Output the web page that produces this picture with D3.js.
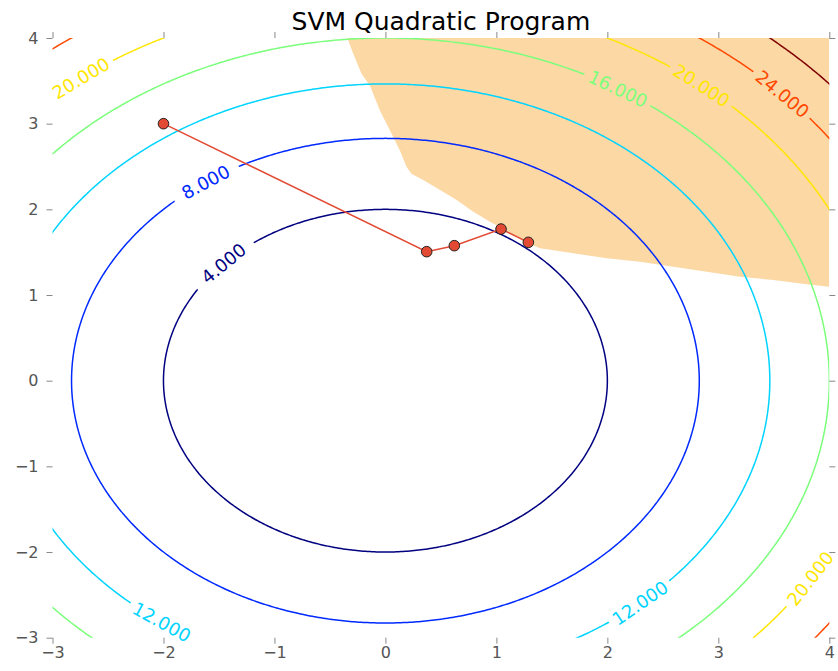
<!DOCTYPE html>
<html>
<head>
<meta charset="utf-8">
<script src="https://cdn.jsdelivr.net/npm/d3@7"></script>
<style>
  html, body { margin: 0; padding: 0; background: #fff; }
  svg { display: block; font-family: "DejaVu Sans", sans-serif; }
</style>
</head>
<body>
<svg id="chart" width="838" height="671"></svg>
<script>
// Objective contour levels of f(x, y) = x^2 + y^2
const levels = [4, 8, 12, 16, 20, 24, 28];

// Where each contour carries its inline label (data coordinates, snapped onto the level curve)
const labelLevels = [20, 8, 4, 16, 20, 24, 12, 12, 20];
const labelX = [-2.75, -1.62, -1.46, 2.11, 2.86, 3.58, -2.01, 2.29, 3.83];
const labelY = [3.54, 2.32, 1.37, 3.43, 3.46, 3.35, -2.81, -2.59, -2.31];

// Boundary of the feasible region (region lies above / right of it)
const regionX = [-0.343, -0.289, -0.214, -0.139, -0.049, 0.057, 0.131, 0.192, 0.237, 0.341,
                 0.492, 0.642, 0.792, 0.942, 1.078, 1.258, 1.393, 1.693, 1.994, 2.294,
                 2.594, 2.895, 3.195, 3.495, 3.796, 4.0];
const regionY = [4.0, 3.813, 3.580, 3.443, 3.151, 2.879, 2.684, 2.491, 2.413, 2.342,
                 2.226, 2.109, 1.972, 1.856, 1.759, 1.619, 1.545, 1.487, 1.428, 1.389,
                 1.330, 1.272, 1.214, 1.175, 1.125, 1.097];

// Solver iterates
const iterX = [-2.0, 0.372, 0.621, 1.042, 1.288];
const iterY = [3.0, 1.506, 1.576, 1.770, 1.615];

const xTicks = [-3, -2, -1, 0, 1, 2, 3, 4];
const yTicks = [-3, -2, -1, 0, 1, 2, 3, 4];

const title = "SVM Quadratic Program";

// ---------------------------------------------------------------
const svg = d3.select("#chart");
const plotL = 52.5, plotR = 829.3, plotT = 38, plotB = 637.7;

const x = d3.scaleLinear().domain([-3, 4]).range([plotL, plotR]);
const y = d3.scaleLinear().domain([-3, 4]).range([plotB, plotT]);

// matplotlib "jet" colormap
function jetChannel(t, pts) {
  for (let i = 1; i < pts.length; i++) {
    if (t <= pts[i][0]) {
      const [t0, v0] = pts[i - 1], [t1, v1] = pts[i];
      return v0 + (v1 - v0) * (t - t0) / (t1 - t0);
    }
  }
  return pts[pts.length - 1][1];
}
function jet(t) {
  const r = jetChannel(t, [[0, 0], [0.35, 0], [0.66, 1], [0.89, 1], [1, 0.5]]);
  const g = jetChannel(t, [[0, 0], [0.125, 0], [0.375, 1], [0.64, 1], [0.91, 0], [1, 0]]);
  const b = jetChannel(t, [[0, 0.5], [0.11, 1], [0.34, 1], [0.65, 0], [1, 0]]);
  return d3.rgb(r * 255, g * 255, b * 255).formatHex();
}
const levelColor = d3.scaleLinear().domain(d3.extent(levels)).range([0, 1]);
const colorOf = lv => jet(levelColor(lv));

const defs = svg.append("defs");
defs.append("clipPath").attr("id", "plot-clip")
  .append("rect").attr("x", plotL).attr("y", plotT)
  .attr("width", plotR - plotL).attr("height", plotB - plotT);

// Feasible region
const regionPts = regionX.map((v, i) => [v, regionY[i]]);
regionPts.push([4, 4]);
svg.append("path")
  .attr("clip-path", "url(#plot-clip)")
  .attr("d", d3.line().x(d => x(d[0])).y(d => y(d[1]))(regionPts) + "Z")
  .attr("fill", "#fcd8a5")
  .attr("stroke", "none");

// Objective sampled on a grid extending past the axes
const g0 = -3.5, step = 0.02, n = Math.round(8 / step) + 1;
const grid = new Float64Array(n * n);
for (let j = 0; j < n; j++) {
  for (let i = 0; i < n; i++) {
    const gx = g0 + i * step, gy = g0 + j * step;
    grid[j * n + i] = gx * gx + gy * gy;
  }
}
const contours = d3.contours().size([n, n]).thresholds(levels)(grid);
const toPlot = d3.geoTransform({
  point(u, v) {
    this.stream.point(x(g0 + (u - 0.5) * step), y(g0 + (v - 0.5) * step));
  }
});
const contourPath = d3.geoPath(toPlot);

// Label geometry: snap to curve, orient along its tangent
const kx = x(1) - x(0), ky = y(0) - y(1);
const fontSize = 18;
const labels = labelLevels.map((lv, i) => {
  const th = Math.atan2(labelY[i], labelX[i]);
  const r = Math.sqrt(lv);
  const px = x(r * Math.cos(th)), py = y(r * Math.sin(th));
  let ang = Math.atan2(-Math.cos(th) * ky, -Math.sin(th) * kx) * 180 / Math.PI;
  if (ang > 90) ang -= 180;
  if (ang < -90) ang += 180;
  return { level: lv, px, py, ang, text: d3.format(".3f")(lv) };
});

// One mask per level cuts gaps where its labels sit
levels.forEach((lv, k) => {
  const m = defs.append("mask").attr("id", "gap-" + k)
    .attr("maskUnits", "userSpaceOnUse")
    .attr("x", 0).attr("y", 0).attr("width", 838).attr("height", 671);
  m.append("rect").attr("width", 838).attr("height", 671).attr("fill", "#fff");
  labels.filter(l => l.level === lv).forEach(l => {
    const w = fontSize * 3.5 + 10, h = fontSize * 1.1;
    m.append("rect")
      .attr("x", -w / 2).attr("y", -h / 2).attr("width", w).attr("height", h)
      .attr("transform", `translate(${l.px},${l.py}) rotate(${l.ang})`)
      .attr("fill", "#000");
  });
});

const cg = svg.append("g").attr("clip-path", "url(#plot-clip)");
contours.forEach((c, k) => {
  cg.append("g").attr("mask", `url(#gap-${k})`)
    .append("path")
    .attr("d", contourPath(c))
    .attr("fill", "none")
    .attr("stroke", colorOf(c.value))
    .attr("stroke-width", 1.5);
});

svg.append("g").selectAll("text").data(labels).join("text")
  .attr("transform", d => `translate(${d.px},${d.py}) rotate(${d.ang})`)
  .attr("text-anchor", "middle")
  .attr("dominant-baseline", "central")
  .attr("font-size", fontSize)
  .attr("fill", d => colorOf(d.level))
  .text(d => d.text);

// Solver path
const iters = iterX.map((v, i) => [v, iterY[i]]);
svg.append("path")
  .attr("d", d3.line().x(d => x(d[0])).y(d => y(d[1]))(iters))
  .attr("fill", "none")
  .attr("stroke", "#e24a33")
  .attr("stroke-width", 1.5);
svg.append("g").selectAll("circle").data(iters).join("circle")
  .attr("cx", d => x(d[0])).attr("cy", d => y(d[1]))
  .attr("r", 5.3)
  .attr("fill", "#e24a33")
  .attr("stroke", "#222")
  .attr("stroke-width", 1);

// Axes: outward ticks on all sides, no spines
const fmt = d3.format("d");
function styleAxis(g) {
  g.select(".domain").remove();
  g.selectAll(".tick line").attr("stroke", "#888").attr("stroke-width", 1);
  g.selectAll(".tick text").attr("fill", "#555").attr("font-size", 16)
    .attr("font-family", "DejaVu Sans, sans-serif");
}
svg.append("g").attr("transform", `translate(0,${plotB})`)
  .call(d3.axisBottom(x).tickValues(xTicks).tickFormat(fmt).tickSize(6).tickPadding(3))
  .call(styleAxis);
svg.append("g").attr("transform", `translate(0,${plotT})`)
  .call(d3.axisTop(x).tickValues(xTicks).tickFormat("").tickSize(6))
  .call(styleAxis);
svg.append("g").attr("transform", `translate(${plotL},0)`)
  .call(d3.axisLeft(y).tickValues(yTicks).tickFormat(fmt).tickSize(6).tickPadding(8))
  .call(styleAxis);
svg.append("g").attr("transform", `translate(${plotR},0)`)
  .call(d3.axisRight(y).tickValues(yTicks).tickFormat("").tickSize(6))
  .call(styleAxis);

// Title
svg.append("text")
  .attr("x", (plotL + plotR) / 2).attr("y", 29.5)
  .attr("text-anchor", "middle")
  .attr("font-size", 25)
  .attr("fill", "#000")
  .text(title);
</script>
</body>
</html>
